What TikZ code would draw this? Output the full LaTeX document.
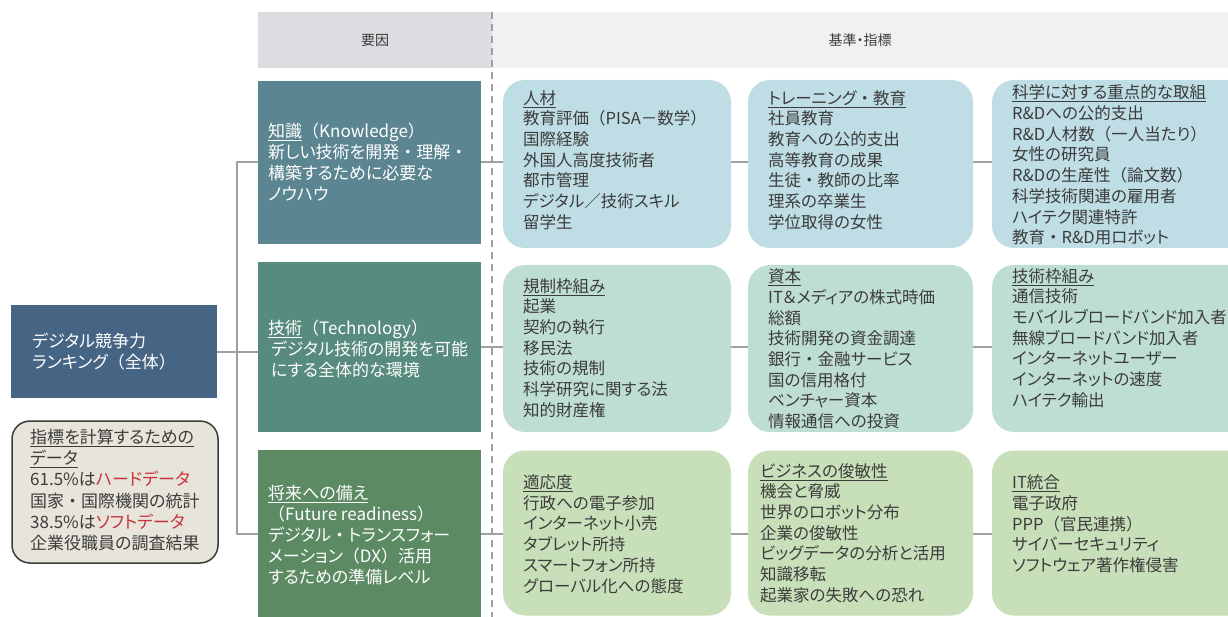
\documentclass[tikz,border=0pt]{standalone}
\usepackage{fontspec}
\setmainfont{Noto Sans CJK JP}[RawFeature=+palt]
\newfontfamily\fw{Noto Sans CJK JP}
\newcommand{\LP}{{\fw （}}
\newcommand{\RP}{{\fw ）}}
\newcommand{\DOT}{{\fw ・}}
\pgfdeclarelayer{bg}
\pgfsetlayers{bg,main}
\definecolor{txt}{HTML}{3C3C3C}
\definecolor{digc}{HTML}{466483}
\definecolor{datac}{HTML}{E7E4DA}
\definecolor{fkc}{HTML}{5B8591}
\definecolor{ftc}{HTML}{578B7D}
\definecolor{ffc}{HTML}{5B8A63}
\definecolor{r1c}{HTML}{BEDDE4}
\definecolor{r2c}{HTML}{BFDED2}
\definecolor{r3c}{HTML}{C8E0B9}
\definecolor{hlc}{HTML}{DCDDE0}
\definecolor{hrc}{HTML}{F0F1F3}
\definecolor{redc}{HTML}{C8323C}
\definecolor{linec}{HTML}{A0A0A0}
\tikzset{
  factor/.style={rectangle, draw=none, inner sep=0pt, minimum width=223pt},
  crit/.style={rectangle, rounded corners=22pt, draw=none, inner sep=0pt},
  btxt/.style={anchor=west, align=left, inner sep=0pt, text=txt, font=\fontsize{16.5}{20.7}\selectfont},
  dtxt/.style={anchor=west, align=left, inner sep=0pt, text=txt, font=\fontsize{17}{21.2}\selectfont},
  wtxt/.style={anchor=west, align=left, inner sep=0pt, text=white, font=\fontsize{17}{20.9}\selectfont},
  conn/.style={draw=linec, line width=2pt},
  htxt/.style={inner sep=0pt, text=txt, font=\fontsize{14}{16}\selectfont},
}
\begin{document}
\begin{tikzpicture}[x=1pt,y=-1pt]
\useasboundingbox (0,0) rectangle (1228,617);
\clip (0,0) rectangle (1228,617);
% header
\node[rectangle, fill=hlc, minimum width=234pt, minimum height=56pt, inner sep=0pt] (hl) at (375,40) {};
\node[rectangle, fill=hrc, minimum width=736pt, minimum height=56pt, inner sep=0pt] (hr) at (860,40) {};
\node[htxt] (hlt) at (hl.center) {要因};
\node[htxt] (hrt) at (hr.center) {基準・指標};
\coordinate (dtop) at (492,12);
\coordinate (dbot) at (492,617);
\draw[draw=linec, line width=1.6pt, dash pattern=on 7pt off 5pt] (dtop) -- (dbot);

% left boxes
\node[rectangle, fill=digc, minimum width=206pt, minimum height=93pt, inner sep=0pt] (dig) at (114,351.5) {};
\node[wtxt] (digt) at (32,351.5) {デジタル競争力\\ランキング\LP 全体\RP};
\node[rectangle, rounded corners=18pt, fill=datac, draw=txt, line width=1.5pt, minimum width=206pt, minimum height=142pt, inner sep=0pt] (data) at (115,492) {};
\node[dtxt] (datat) at (30,490) {\underline{指標を計算するための}\\\underline{データ}\\61.5\%は\textcolor{redc}{ハードデータ}\\国家\DOT 国際機関の統計\\38.5\%は\textcolor{redc}{ソフトデータ}\\企業役職員の調査結果};

% factor boxes
\node[factor, fill=fkc, minimum height=163pt] (fk) at (369.5,162.5) {};
\node[factor, fill=ftc, minimum height=170pt] (ft) at (369.5,347) {};
\node[factor, fill=ffc, minimum height=167pt] (ff) at (369.5,533.5) {};
\node[wtxt] (fkt) at (268,162) {\underline{知識}\LP Knowledge\RP\\新しい技術を開発\DOT 理解\DOT\\構築するために必要な\\ノウハウ};
\node[wtxt] (ftt) at (268,349) {\underline{技術}\LP Technology\RP\\\,デジタル技術の開発を可能\\\,にする全体的な環境};
\node[wtxt] (fft) at (268,535) {\underline{将来への備え}\\\LP Future readiness\RP\\デジタル\DOT トランスフォー\\メーション\LP DX\RP 活用\\するための準備レベル};

% criteria boxes
\node[crit, fill=r1c, minimum width=228pt, minimum height=168pt] (c11) at (617,164) {};
\node[crit, fill=r1c, minimum width=225pt, minimum height=168pt] (c12) at (860.5,164) {};
\node[crit, fill=r1c, minimum width=258pt, minimum height=168pt] (c13) at (1121,164) {};
\node[crit, fill=r2c, minimum width=228pt, minimum height=167pt] (c21) at (617,348.5) {};
\node[crit, fill=r2c, minimum width=225pt, minimum height=167pt] (c22) at (860.5,348.5) {};
\node[crit, fill=r2c, minimum width=258pt, minimum height=167pt] (c23) at (1121,348.5) {};
\node[crit, fill=r3c, minimum width=228pt, minimum height=165pt] (c31) at (617,533) {};
\node[crit, fill=r3c, minimum width=225pt, minimum height=165pt] (c32) at (860.5,533) {};
\node[crit, fill=r3c, minimum width=258pt, minimum height=165pt] (c33) at (1121,533) {};

\node[btxt] (t11) at (523,160) {\underline{人材}\\教育評価\LP PISA－数学\RP\\国際経験\\外国人高度技術者\\都市管理\\デジタル／技術スキル\\留学生};
\node[btxt] (t12) at (768,160) {\underline{トレーニング\DOT 教育}\\社員教育\\教育への公的支出\\高等教育の成果\\生徒\DOT 教師の比率\\理系の卒業生\\学位取得の女性};
\node[btxt] (t13) at (1012,165) {\underline{科学に対する重点的な取組}\\R\&Dへの公的支出\\R\&D人材数\LP 一人当たり\RP\\女性の研究員\\R\&Dの生産性\LP 論文数\RP\\科学技術関連の雇用者\\ハイテク関連特許\\教育\DOT R\&D用ロボット};
\node[btxt] (t21) at (523,348) {\underline{規制枠組み}\\起業\\契約の執行\\移民法\\技術の規制\\科学研究に関する法\\知的財産権};
\node[btxt] (t22) at (768,349) {\underline{資本}\\IT＆メディアの株式時価\\総額\\技術開発の資金調達\\銀行\DOT 金融サービス\\国の信用格付\\ベンチャー資本\\情報通信への投資};
\node[btxt] (t23) at (1012,338) {\underline{技術枠組み}\\通信技術\\モバイルブロードバンド加入者\\無線ブロードバンド加入者\\インターネットユーザー\\インターネットの速度\\ハイテク輸出};
\node[btxt] (t31) at (523,534) {\underline{適応度}\\行政への電子参加\\インターネット小売\\タブレット所持\\スマートフォン所持\\グローバル化への態度};
\node[btxt] (t32) at (760,533) {\underline{ビジネスの俊敏性}\\機会と脅威\\世界のロボット分布\\企業の俊敏性\\ビッグデータの分析と活用\\知識移転\\起業家の失敗への恐れ};
\node[btxt] (t33) at (1012,524) {\underline{IT統合}\\電子政府\\PPP\LP 官民連携\RP\\サイバーセキュリティ\\ソフトウェア著作権侵害};

% connectors
\coordinate (tr) at (237,0);
\begin{pgfonlayer}{bg}
\draw[conn] (dig.east) -- (dig.east -| ft.west);
\draw[conn] (fk.west) -- (fk.west -| tr) -- (ff.west -| tr) -- (ff.west);
\draw[conn] (fk.east) -- (c13.west |- fk.east);
\draw[conn] (ft.east) -- (c23.west |- ft.east);
\draw[conn] (ff.east) -- (c33.west |- ff.east);
\end{pgfonlayer}
\end{tikzpicture}
\end{document}
